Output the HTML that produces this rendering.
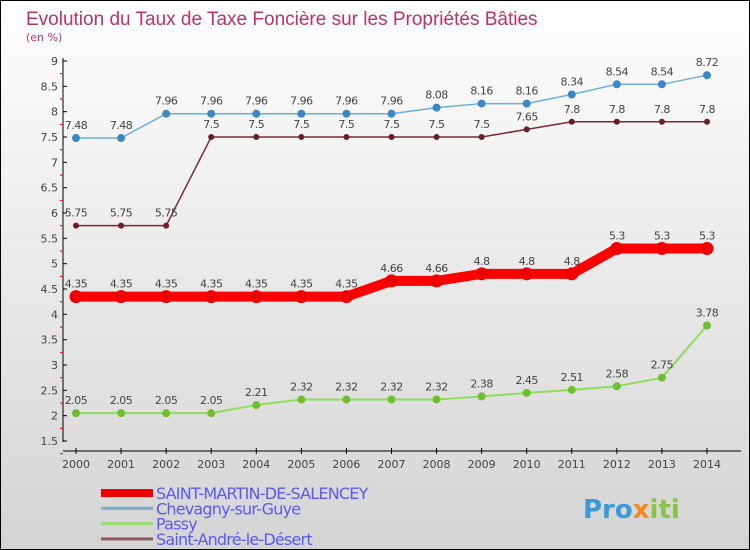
<!DOCTYPE html>
<html><head><meta charset="utf-8"><style>
body{margin:0}
#c{width:750px;height:550px;position:relative;overflow:hidden;box-sizing:border-box;border:1px solid #000;background:linear-gradient(#fff 0%,#f2f2f2 30%,#d4d4d4 100%);font-family:"DejaVu Sans","Liberation Sans",sans-serif}
</style></head><body>
<div id="c">
<svg id="s" width="750" height="550" style="position:absolute;left:0;top:0">
<text x="25" y="24" font-size="19" fill="#c0325f" font-family="Liberation Sans, sans-serif">Evolution du Taux de Taxe Foncière sur les Propriétés Bâties</text>
<text x="25" y="40" font-size="11" fill="#c0325f">(en %)</text>
<g id="axes"></g><g id="marks"></g><g id="legend"></g>
<text x="582" y="517" font-size="26" font-weight="bold" fill="#3a9ad9">Pro<tspan fill="#f08a1c">x</tspan><tspan fill="#8bc34a">iti</tspan></text>
</svg>
</div>
<script>
const years=[2000,2001,2002,2003,2004,2005,2006,2007,2008,2009,2010,2011,2012,2013,2014];
const yTicks=[1.5,2,2.5,3,3.5,4,4.5,5,5.5,6,6.5,7,7.5,8,8.5,9];
const saintMartin=[4.35,4.35,4.35,4.35,4.35,4.35,4.35,4.66,4.66,4.8,4.8,4.8,5.3,5.3,5.3];
const chevagny=[7.48,7.48,7.96,7.96,7.96,7.96,7.96,7.96,8.08,8.16,8.16,8.34,8.54,8.54,8.72];
const passy=[2.05,2.05,2.05,2.05,2.21,2.32,2.32,2.32,2.32,2.38,2.45,2.51,2.58,2.75,3.78];
const saintAndre=[5.75,5.75,5.75,7.5,7.5,7.5,7.5,7.5,7.5,7.5,7.65,7.8,7.8,7.8,7.8];
const NS="http://www.w3.org/2000/svg";
const xs=i=>75+i*45.07;
const ys=v=>60+(9-v)*50.67;
function el(t,a,p){const e=document.createElementNS(NS,t);for(const k in a)e.setAttribute(k,a[k]);p.appendChild(e);return e;}
const ax=document.getElementById('axes');
let l=el('line',{x1:62,y1:57,x2:62,y2:441,stroke:'#000'},ax);

l=el('line',{x1:62,y1:450,x2:740,y2:450,stroke:'#000'},ax);

yTicks.forEach(v=>{
 el('line',{x1:62,y1:ys(v),x2:66,y2:ys(v),stroke:'#000'},ax);
 el('line',{x1:59,y1:ys(v)+12.7,x2:62,y2:ys(v)+12.7,stroke:'red'},ax);
 const t=el('text',{x:57,y:ys(v)+4,'font-size':11,fill:'#444','text-anchor':'end'},ax);t.textContent=v;
 
});
years.forEach((y,i)=>{
 el('line',{x1:xs(i),y1:447,x2:xs(i),y2:453,stroke:'#000'},ax);
 const t=el('text',{x:xs(i),y:467,'font-size':11,fill:'#444','text-anchor':'middle'},ax);t.textContent=y;
 
});
const mk=document.getElementById('marks');
function series(data,col,dot,w,r,name){
 const g=el('g',{},mk);
 el('polyline',{points:data.map((v,i)=>xs(i)+','+ys(v)).join(' '),fill:'none',stroke:col,'stroke-width':w},g);
 data.forEach((v,i)=>{
  const c=el('circle',{cx:xs(i),cy:ys(v),r:r,fill:dot},g);
  
  const t=el('text',{x:xs(i),y:ys(v)-9,'font-size':11,fill:'#444','text-anchor':'middle','letter-spacing':'-0.5'},g);
  t.textContent=String(v);
 });
}
series(passy,'#8fdc5a','#6cc030',2,4,'passy-series');
series(saintAndre,'#7a2a35','#6b1c26',1.5,3,'saint-andre-series');
series(chevagny,'#6aaee0','#3a88c8',1.5,4,'chevagny-series');
series(saintMartin,'#ff0000','#ee0000',10,6.5,'saint-martin-series');
const lg=document.getElementById('legend');
const names=['SAINT-MARTIN-DE-SALENCEY','Chevagny-sur-Guye','Passy','Saint-André-le-Désert'];
const cols=['#ee0000','#7aaed0','#9ddc74','#8a5a5a'];
const ws=[8,3,3,3];
names.forEach((n,i)=>{
 const y=492+i*15.3;
 const r=el('rect',{x:100,y:y-ws[i]/2,width:52,height:ws[i],fill:cols[i]},lg);
 
 const t=el('text',{x:155,y:y+6,'font-size':16,fill:'#5a5af0','letter-spacing':'-0.8'},lg);t.textContent=n;
 
});
</script>
</body></html>
